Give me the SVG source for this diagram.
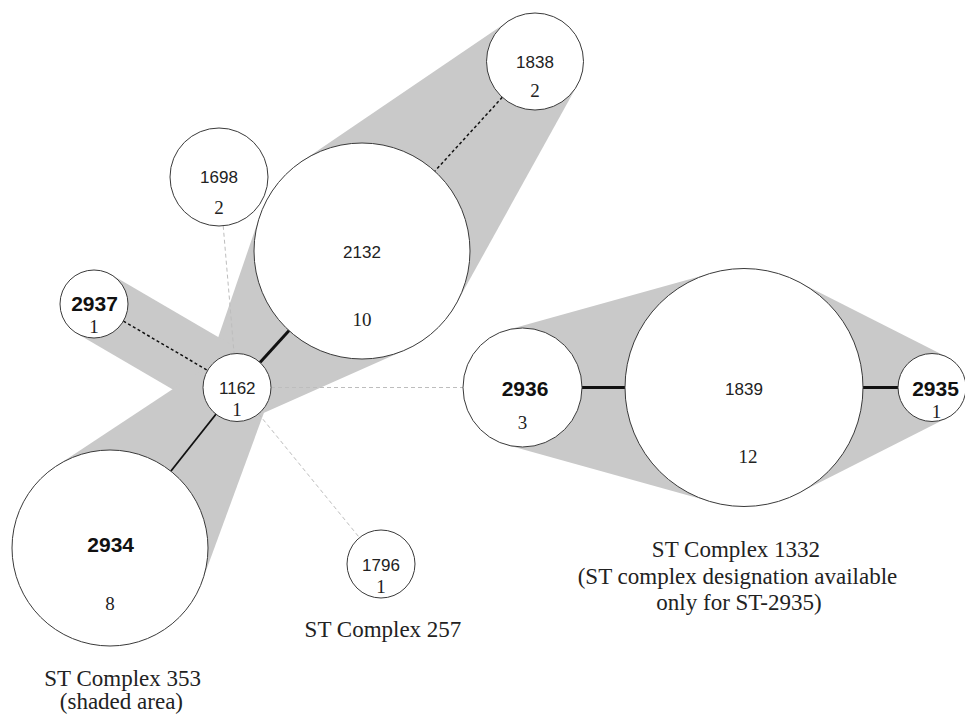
<svg xmlns="http://www.w3.org/2000/svg" width="965" height="715" viewBox="0 0 965 715">
<defs>
<style>
.shade{fill:#c9c9c9;stroke:none}
.node{fill:#ffffff;stroke:#3a3a3a;stroke-width:1}
.id{font-family:"Liberation Sans",Arial,sans-serif;font-size:17px;fill:#222;text-anchor:middle}
.idb{font-family:"Liberation Sans",Arial,sans-serif;font-size:21px;font-weight:bold;fill:#111;text-anchor:middle}
.cnt{font-family:"Liberation Serif","Times New Roman",serif;font-size:19px;fill:#222;text-anchor:middle}
.lbl{font-family:"Liberation Serif","Times New Roman",serif;font-size:23px;fill:#222;text-anchor:middle}
.thick{stroke:#111;stroke-width:3;fill:none}
.solid{stroke:#111;stroke-width:1.8;fill:none}
.dot{stroke:#111;stroke-width:1.5;stroke-dasharray:3 2.5;fill:none}
.faint{stroke:#bdbdbd;stroke-width:1;stroke-dasharray:4 3;fill:none}
</style>
</defs>
<rect width="965" height="715" fill="#ffffff"/>
<g id="shading">
<polygon class="shade" points="507.7,21.4 577.4,85.0 456.5,303.3 301.3,161.7"/>
<polygon class="shade" points="204.8,376.5 250.8,418.6 405.8,349.7 259.8,216.0"/>
<polygon class="shade" points="111.1,274.6 254.1,358.1 219.9,416.9 76.9,333.4"/>
<polygon class="shade" points="218.3,359.1 268.9,399.2 202.0,581.7 56.0,466.2"/>
<polygon class="shade" points="506.5,330.2 712,272.9 797.8,281.4 947.4,357.2 947.4,417.8 797.8,493.6 712,502.1 506.5,444.8"/>
</g>
<g id="connectors">
<line class="dot" x1="502.3" y1="97.3" x2="434.8" y2="171.2"/>
<line class="thick" x1="260" y1="362.4" x2="289.1" y2="330.6"/>
<line class="dot" x1="123.4" y1="321.1" x2="207.6" y2="370.4"/>
<line class="solid" x1="215.9" y1="414.2" x2="170.8" y2="471.2"/>
<line class="faint" x1="223.2" y1="225.8" x2="234.1" y2="353.6"/>
<line class="faint" x1="271" y1="387.5" x2="463" y2="387.5"/>
<line class="faint" x1="258.5" y1="413.8" x2="359.5" y2="537.7"/>
<line class="thick" x1="582" y1="387.5" x2="625" y2="387.5"/>
<line class="thick" x1="863" y1="387.5" x2="898" y2="387.5"/>
</g>
<g id="node-1838">
<circle class="node" cx="535" cy="61.5" r="48.5"/>
<text class="id" x="535" y="68.3">1838</text>
<text class="cnt" x="535" y="97">2</text>
</g>
<g id="node-1698">
<circle class="node" cx="219" cy="177" r="49"/>
<text class="id" x="219" y="183.3">1698</text>
<text class="cnt" x="219" y="214">2</text>
</g>
<g id="node-2132">
<circle class="node" cx="362" cy="251" r="108"/>
<text class="id" x="362" y="257.7">2132</text>
<text class="cnt" x="362" y="325.7">10</text>
</g>
<g id="node-2937">
<circle class="node" cx="94" cy="304" r="34"/>
<text class="idb" x="94.5" y="311">2937</text>
<text class="cnt" x="94" y="332.7">1</text>
</g>
<g id="node-1162">
<circle class="node" cx="237" cy="387.5" r="34"/>
<text class="id" x="237.3" y="394">1162</text>
<text class="cnt" x="237" y="416">1</text>
</g>
<g id="node-2934">
<circle class="node" cx="110" cy="548" r="98"/>
<text class="idb" x="110.7" y="552">2934</text>
<text class="cnt" x="110" y="610">8</text>
</g>
<g id="node-1796">
<circle class="node" cx="381" cy="564" r="34"/>
<text class="id" x="381" y="570.7">1796</text>
<text class="cnt" x="381" y="593">1</text>
</g>
<g id="node-2936">
<circle class="node" cx="522.5" cy="387.5" r="59.5"/>
<text class="idb" x="525" y="396">2936</text>
<text class="cnt" x="522.5" y="429">3</text>
</g>
<g id="node-1839">
<circle class="node" cx="744" cy="387.5" r="119"/>
<text class="id" x="744" y="395">1839</text>
<text class="cnt" x="748" y="463">12</text>
</g>
<g id="node-2935">
<circle class="node" cx="932" cy="387.5" r="34"/>
<text class="idb" x="935.5" y="396">2935</text>
<text class="cnt" x="936.5" y="418">1</text>
</g>
<g id="labels">
<text class="lbl" x="122.7" y="686">ST Complex 353</text>
<text class="lbl" x="121.4" y="709">(shaded area)</text>
<text class="lbl" x="383" y="637">ST Complex 257</text>
<text class="lbl" x="736" y="557">ST Complex 1332</text>
<text class="lbl" x="737.5" y="584">(ST complex designation available</text>
<text class="lbl" x="739" y="610">only for ST-2935)</text>
</g>
</svg>
